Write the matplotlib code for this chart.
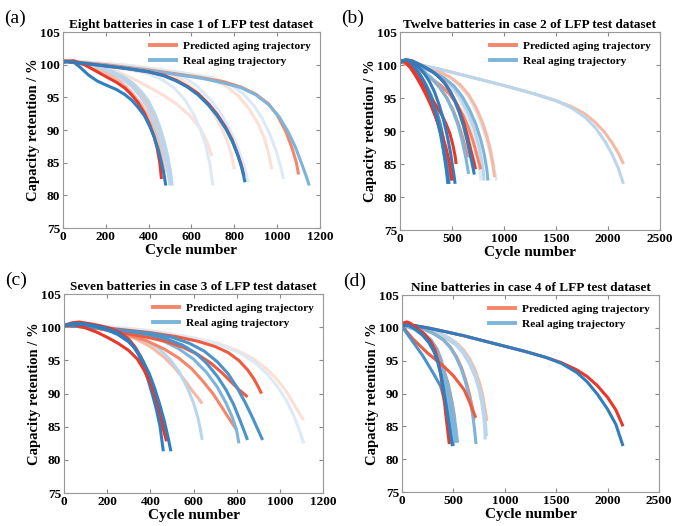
import matplotlib
matplotlib.use("Agg")
import matplotlib.pyplot as plt
from matplotlib.lines import Line2D

plt.rcParams["font.family"] = ["Liberation Serif", "DejaVu Serif"]
plt.rcParams["font.weight"] = "bold"

# colour shades: 0 = strong ... 4 = faint
RED = ["#E8382B", "#EF5A40", "#F4876A", "#F8B9A4", "#FCDFD5"]
BLUE = ["#2F7FBF", "#4B93C9", "#7DB4D9", "#B9D6EC", "#DDEAF5"]

# ---- panel (a): eight batteries, case 1 ----
a_shade = [0, 0, 2, 3, 4, 4, 4, 3]
a_real = [
    [[0, 20, 50, 80, 120, 160, 200, 250, 290, 320, 350, 380, 405, 425, 445, 460, 472, 480],
     [100.3, 100.5, 100.4, 99.6, 98.4, 97.5, 96.9, 96.2, 95.4, 94.6, 93.5, 92.2, 90.6, 89.0, 87.0, 85.0, 83.2, 81.5]],
    [[0, 100, 200, 300, 400, 470, 530, 580, 630, 680, 720, 760, 790, 815, 835, 850],
     [100.5, 100.2, 99.8, 99.4, 98.9, 98.3, 97.5, 96.6, 95.4, 93.8, 92.2, 90.2, 88.3, 86.3, 84.2, 82.0]],
    [[0, 200, 400, 550, 650, 750, 830, 900, 960, 1010, 1050, 1085, 1115, 1135, 1150],
     [100.6, 99.9, 99.1, 98.4, 97.9, 97.2, 96.5, 95.4, 93.9, 92.0, 89.8, 87.4, 84.8, 83.0, 81.5]],
    [[0, 100, 200, 280, 330, 370, 400, 430, 455, 475, 492, 503, 510],
     [100.6, 100.3, 99.4, 98.2, 97.1, 95.7, 94.4, 92.4, 90.2, 88.0, 85.5, 83.4, 81.5]],
    [[0, 150, 300, 400, 470, 520, 570, 610, 640, 665, 685, 700],
     [100.6, 100.1, 99.3, 98.6, 97.6, 96.4, 94.6, 92.4, 90.2, 87.8, 85.0, 81.5]],
    [[0, 200, 400, 500, 570, 630, 690, 740, 780, 815, 845, 865],
     [100.6, 100.1, 99.3, 98.8, 98.0, 96.6, 94.6, 92.4, 90.0, 87.4, 84.6, 82.0]],
    [[0, 300, 550, 700, 780, 840, 890, 930, 965, 995, 1015, 1030],
     [100.7, 99.9, 98.8, 98.0, 97.0, 95.6, 93.8, 91.8, 89.4, 86.8, 84.6, 82.5]],
    [[0, 100, 200, 270, 320, 360, 395, 425, 450, 470, 487, 500],
     [100.6, 100.2, 99.2, 98.0, 96.7, 95.2, 93.4, 91.2, 89.0, 86.8, 84.2, 81.5]],
]
a_pred = [
    [[0, 50, 100, 150, 200, 250, 290, 320, 350, 380, 405, 425, 440, 452, 460],
     [100.5, 100.6, 100.0, 99.1, 98.2, 97.3, 96.4, 95.4, 94.2, 92.6, 90.8, 89.0, 87.2, 85.0, 82.5]],
    [[0, 100, 200, 300, 400, 470, 530, 580, 630, 680, 720, 760, 790, 812, 832, 845],
     [100.5, 100.2, 99.8, 99.4, 98.9, 98.4, 97.6, 96.7, 95.6, 94.0, 92.4, 90.4, 88.5, 86.6, 84.7, 83.0]],
    [[0, 200, 400, 550, 650, 750, 830, 900, 960, 1000, 1040, 1070, 1090, 1100],
     [100.6, 100.0, 99.2, 98.5, 98.0, 97.4, 96.6, 95.5, 94.0, 92.3, 89.8, 87.2, 85.0, 83.2]],
    [[0, 100, 200, 280, 330, 370, 400, 430, 455, 475, 488, 495],
     [100.6, 100.2, 99.2, 97.9, 96.8, 95.4, 94.0, 92.0, 89.8, 87.5, 85.2, 83.0]],
    [[0, 150, 250, 330, 400, 470, 530, 590, 640, 675, 695],
     [100.6, 100.0, 99.0, 97.8, 96.6, 95.3, 94.0, 92.3, 90.3, 88.0, 86.0]],
    [[0, 200, 400, 500, 560, 620, 670, 710, 745, 770, 790, 800],
     [100.6, 100.0, 99.2, 98.6, 97.6, 96.0, 94.2, 92.2, 90.0, 88.0, 85.8, 84.0]],
    [[0, 300, 550, 680, 760, 820, 870, 910, 940, 960, 975],
     [100.7, 99.9, 98.8, 98.0, 96.8, 95.2, 93.2, 91.0, 88.8, 86.4, 84.0]],
    [[0, 100, 200, 270, 320, 360, 390, 420, 445, 462, 475],
     [100.6, 100.0, 98.8, 97.4, 95.8, 94.2, 92.6, 90.6, 88.4, 86.0, 83.5]],
]

# ---- panel (b): twelve batteries, case 2 ----
b_shade = [1, 0, 1, 0, 0, 2, 3, 3, 1, 4, 4, 2]
b_real = [
    [[0, 40, 80, 130, 180, 230, 280, 320, 360, 390, 415, 435, 450, 460],
     [100.4, 100.7, 100.6, 99.6, 98.4, 97.0, 95.3, 93.6, 91.4, 89.4, 87.2, 85.2, 83.5, 82.0]],
    [[0, 50, 100, 160, 220, 280, 330, 380, 420, 455, 485, 505, 520, 530],
     [100.5, 100.8, 100.7, 100.0, 99.0, 97.6, 96.0, 93.8, 91.6, 89.2, 86.8, 84.7, 83.2, 82.0]],
    [[0, 50, 100, 150, 200, 250, 300, 350, 390, 420, 445, 460, 470],
     [100.4, 100.6, 100.2, 99.3, 98.1, 96.7, 95.0, 92.8, 90.6, 88.4, 86.0, 84.0, 82.0]],
    [[0, 40, 80, 130, 180, 230, 280, 320, 360, 395, 420, 440, 455, 465],
     [100.4, 100.7, 100.7, 99.9, 98.8, 97.5, 95.8, 94.0, 91.8, 89.4, 87.2, 85.2, 83.4, 82.0]],
    [[0, 60, 120, 200, 270, 330, 380, 430, 480, 530, 570, 610, 645, 675, 700, 715],
     [100.5, 100.8, 100.6, 100.0, 99.4, 98.8, 98.1, 97.2, 96.0, 94.4, 92.8, 90.8, 88.6, 86.4, 84.6, 83.4]],
    [[0, 150, 300, 420, 520, 600, 670, 730, 775, 810, 835, 846],
     [100.6, 100.0, 99.1, 98.1, 96.8, 95.2, 93.2, 91.0, 88.8, 86.5, 84.2, 82.5]],
    [[0, 150, 300, 420, 510, 590, 660, 715, 755, 785, 800, 808],
     [100.6, 100.0, 99.0, 97.9, 96.6, 94.8, 92.6, 90.3, 88.0, 85.6, 84.0, 82.5]],
    [[0, 200, 400, 700, 1000, 1300, 1500, 1650, 1780, 1880, 1970, 2040, 2100, 2150],
     [100.5, 100.0, 99.3, 98.1, 96.9, 95.6, 94.6, 93.5, 92.1, 90.5, 88.5, 86.5, 84.4, 82.0]],
    [[0, 50, 100, 150, 200, 250, 300, 345, 385, 415, 440, 458, 470],
     [100.4, 100.7, 100.4, 99.5, 98.4, 97.0, 95.4, 93.4, 91.2, 89.0, 86.6, 84.4, 82.0]],
    [[0, 200, 350, 470, 570, 650, 720, 780, 830, 870, 900, 930],
     [100.6, 100.0, 99.2, 98.2, 96.9, 95.4, 93.4, 91.2, 88.8, 86.4, 84.4, 82.5]],
    [[0, 150, 300, 400, 480, 550, 610, 660, 700, 735, 760, 780],
     [100.6, 100.0, 99.1, 98.1, 96.9, 95.4, 93.6, 91.6, 89.4, 87.0, 84.8, 82.5]],
    [[0, 100, 200, 300, 380, 450, 510, 560, 600, 635, 660],
     [100.6, 100.3, 99.4, 98.1, 96.7, 95.0, 93.0, 90.8, 88.4, 85.8, 83.5]],
]
b_pred = [
    [[0, 40, 100, 150, 200, 250, 300, 350, 390, 420, 450, 475, 490],
     [100.6, 100.6, 99.6, 98.5, 97.3, 95.9, 94.2, 92.0, 89.8, 87.8, 85.6, 83.8, 82.5]],
    [[0, 50, 100, 150, 200, 250, 300, 350, 400, 440, 480, 510, 530, 540],
     [100.6, 100.6, 99.8, 98.6, 97.4, 96.2, 95.0, 93.8, 92.5, 91.2, 89.6, 87.8, 86.2, 85.0]],
    [[0, 50, 100, 150, 200, 250, 300, 350, 390, 420, 445, 465, 478],
     [100.5, 100.6, 100.0, 99.0, 97.8, 96.4, 94.7, 92.5, 90.4, 88.3, 86.2, 84.3, 82.8]],
    [[0, 40, 100, 150, 200, 250, 300, 350, 400, 440, 470, 490, 500],
     [100.6, 100.6, 99.6, 98.4, 97.0, 95.5, 93.8, 91.8, 89.6, 87.6, 85.6, 83.8, 82.5]],
    [[0, 60, 120, 200, 270, 330, 380, 430, 480, 530, 575, 615, 650, 680, 710, 727],
     [100.5, 100.7, 100.6, 100.0, 99.4, 98.8, 98.1, 97.3, 96.1, 94.6, 93.0, 91.2, 89.2, 87.2, 85.4, 84.2]],
    [[0, 100, 200, 300, 400, 480, 550, 610, 660, 700, 735, 760, 776],
     [100.5, 99.9, 99.1, 98.0, 96.8, 95.5, 94.0, 92.3, 90.4, 88.6, 86.6, 85.2, 84.2]],
    [[0, 200, 350, 480, 580, 660, 730, 790, 835, 870, 895, 910],
     [100.6, 100.0, 99.2, 98.2, 97.0, 95.5, 93.6, 91.4, 89.2, 87.0, 84.8, 83.0]],
    [[0, 200, 400, 700, 1000, 1300, 1500, 1650, 1780, 1880, 1970, 2050, 2110, 2150],
     [100.5, 100.0, 99.3, 98.1, 96.9, 95.6, 94.6, 93.7, 92.6, 91.3, 89.8, 88.0, 86.4, 85.0]],
    [[0, 50, 100, 150, 200, 250, 300, 345, 385, 415, 440, 460, 475],
     [100.5, 100.6, 100.2, 99.2, 98.0, 96.6, 95.0, 93.0, 90.9, 88.8, 86.6, 84.6, 83.0]],
    [[0, 200, 350, 470, 570, 650, 720, 780, 830, 865, 890, 905],
     [100.6, 100.0, 99.2, 98.2, 97.0, 95.6, 93.8, 91.8, 89.6, 87.6, 85.8, 84.5]],
    [[0, 150, 300, 400, 480, 550, 610, 660, 700, 730, 750, 765],
     [100.6, 100.0, 99.1, 98.1, 97.0, 95.6, 94.0, 92.2, 90.2, 88.4, 86.8, 85.5]],
    [[0, 100, 200, 300, 380, 450, 510, 560, 600, 630, 650],
     [100.6, 100.2, 99.3, 98.0, 96.6, 95.0, 93.2, 91.2, 89.2, 87.4, 86.0]],
]

# ---- panel (c): seven batteries, case 3 ----
c_shade = [0, 0, 1, 1, 2, 3, 4]
c_real = [
    [[0, 30, 60, 100, 150, 200, 250, 290, 320, 345, 370, 390, 410, 428, 445, 460],
     [100.3, 100.5, 100.6, 100.5, 100.2, 99.8, 99.1, 98.2, 97.2, 95.9, 94.0, 92.0, 89.8, 87.6, 85.0, 81.3]],
    [[0, 50, 100, 150, 200, 250, 300, 335, 365, 395, 420, 445, 465, 482, 495],
     [100.3, 100.5, 100.4, 100.1, 99.6, 98.9, 97.8, 96.6, 95.0, 93.0, 90.8, 88.2, 85.8, 83.4, 81.3]],
    [[0, 150, 300, 400, 480, 550, 610, 660, 710, 750, 785, 815, 835, 850],
     [100.3, 100.0, 99.4, 98.9, 98.2, 97.3, 96.1, 94.6, 92.6, 90.6, 88.4, 86.0, 84.3, 83.0]],
    [[0, 200, 400, 500, 580, 650, 710, 760, 800, 840, 870, 895, 920],
     [100.3, 99.8, 99.1, 98.5, 97.6, 96.4, 94.8, 93.0, 91.0, 88.6, 86.6, 84.8, 83.0]],
    [[0, 200, 350, 450, 530, 600, 660, 710, 750, 780, 800, 810],
     [100.3, 99.8, 99.0, 98.1, 96.8, 95.2, 93.2, 91.0, 88.6, 86.4, 84.4, 82.5]],
    [[0, 200, 300, 380, 440, 490, 535, 570, 600, 620, 632, 640],
     [100.3, 99.7, 99.0, 98.0, 96.8, 95.2, 93.2, 91.0, 88.6, 86.4, 84.6, 83.0]],
    [[0, 200, 400, 600, 720, 810, 880, 940, 990, 1030, 1065, 1090, 1110],
     [100.4, 100.1, 99.5, 98.4, 97.4, 96.2, 94.8, 93.0, 91.0, 89.0, 86.6, 84.5, 82.5]],
]
c_pred = [
    [[0, 40, 70, 110, 160, 210, 260, 300, 330, 355, 380, 400, 420, 440, 460, 475],
     [100.3, 100.7, 100.8, 100.6, 100.3, 99.9, 99.2, 98.2, 97.0, 95.6, 93.6, 91.6, 89.4, 87.0, 84.6, 82.8]],
    [[0, 50, 100, 150, 200, 250, 300, 340, 370, 400, 425, 448, 466, 480],
     [100.3, 100.4, 99.9, 99.3, 98.5, 97.6, 96.5, 95.2, 93.6, 91.6, 89.4, 87.0, 84.8, 83.0]],
    [[0, 150, 300, 400, 480, 550, 620, 680, 730, 770, 810, 850],
     [100.3, 99.9, 99.0, 98.4, 97.8, 97.0, 95.9, 94.6, 93.2, 91.9, 90.6, 89.5]],
    [[0, 200, 400, 520, 620, 700, 760, 810, 850, 880, 900, 915],
     [100.3, 99.9, 99.2, 98.6, 97.9, 97.1, 96.2, 95.0, 93.6, 92.2, 91.0, 90.0]],
    [[0, 150, 280, 380, 460, 530, 590, 640, 690, 730, 765, 800],
     [100.3, 99.9, 99.0, 98.0, 96.8, 95.4, 93.8, 92.0, 90.0, 88.0, 86.2, 84.5]],
    [[0, 150, 250, 330, 400, 460, 510, 555, 590, 620, 640],
     [100.3, 99.9, 99.2, 98.3, 97.1, 95.6, 94.0, 92.2, 90.6, 89.4, 88.5]],
    [[0, 200, 400, 600, 720, 810, 880, 940, 990, 1030, 1065, 1090, 1110],
     [100.4, 100.1, 99.5, 98.4, 97.5, 96.4, 95.2, 93.7, 92.0, 90.3, 88.4, 87.0, 86.0]],
]

# ---- panel (d): nine batteries, case 4 ----
d_shade = [0, 0, 1, 2, 2, 3, 3, 2, 2]
d_real = [
    [[0, 100, 250, 400, 600, 800, 1000, 1200, 1400, 1550, 1700, 1800, 1900, 2000, 2080, 2150],
     [100.5, 100.4, 100.0, 99.5, 98.8, 98.0, 97.2, 96.4, 95.5, 94.6, 93.2, 91.8, 89.9, 87.6, 85.3, 82.0]],
    [[0, 60, 130, 200, 260, 310, 350, 380, 405, 430, 452, 472, 490],
     [100.4, 100.4, 99.8, 98.9, 97.8, 96.4, 94.6, 92.8, 90.6, 88.2, 85.8, 83.8, 82.0]],
    [[0, 100, 200, 300, 376, 420, 450, 475, 495],
     [100.2, 98.0, 95.8, 93.2, 91.1, 88.5, 86.0, 83.4, 82.0]],
    [[0, 100, 200, 280, 340, 380, 415, 445, 470, 490, 508, 520],
     [100.5, 100.2, 99.3, 98.2, 96.8, 95.2, 93.0, 90.4, 87.8, 85.6, 83.8, 82.5]],
    [[0, 150, 300, 400, 470, 530, 580, 620, 655, 685, 705, 720],
     [100.5, 100.2, 99.2, 98.2, 97.0, 95.4, 93.6, 91.6, 89.4, 87.0, 84.6, 82.3]],
    [[0, 200, 350, 450, 530, 600, 660, 710, 750, 775, 795, 805, 810],
     [100.5, 100.0, 99.1, 98.2, 97.3, 96.0, 94.4, 92.6, 90.6, 88.6, 86.4, 84.6, 83.0]],
    [[0, 200, 350, 450, 530, 600, 660, 710, 750, 780, 800, 815, 820],
     [100.5, 100.1, 99.3, 98.5, 97.6, 96.3, 94.8, 93.0, 91.0, 89.0, 87.0, 85.0, 83.5]],
    [[0, 100, 200, 270, 330, 370, 400, 430, 455, 475, 490, 500],
     [100.5, 100.0, 98.9, 97.6, 96.0, 94.4, 92.8, 90.6, 88.2, 85.8, 83.8, 82.0]],
    [[0, 150, 250, 330, 400, 450, 490, 520, 540],
     [100.5, 99.6, 98.2, 96.4, 93.8, 91.2, 88.2, 85.2, 82.5]],
]
d_pred = [
    [[0, 100, 250, 400, 600, 800, 1000, 1200, 1400, 1550, 1700, 1800, 1900, 2000, 2080, 2150],
     [100.5, 100.4, 100.0, 99.5, 98.8, 98.0, 97.2, 96.4, 95.5, 94.7, 93.6, 92.6, 91.2, 89.4, 87.5, 85.0]],
    [[0, 20, 50, 80, 150, 220, 280, 320, 350, 375, 395, 415, 432, 447, 460],
     [100.5, 100.8, 100.9, 100.7, 99.9, 99.0, 97.9, 96.6, 95.0, 93.0, 90.8, 88.4, 86.0, 84.0, 82.3]],
    [[0, 100, 246, 408, 500, 603, 660, 717],
     [100.3, 98.4, 96.2, 94.1, 92.7, 90.6, 88.6, 86.3]],
    [[0, 100, 200, 280, 340, 380, 415, 445, 470, 490, 505],
     [100.5, 100.2, 99.3, 98.1, 96.7, 95.0, 92.8, 90.2, 87.6, 85.4, 83.5]],
    [[0, 150, 300, 400, 470, 530, 580, 620, 655, 685, 700],
     [100.5, 100.2, 99.2, 98.2, 97.1, 95.6, 93.9, 92.0, 90.0, 87.8, 86.0]],
    [[0, 200, 350, 450, 530, 600, 660, 710, 750, 780, 800, 815, 820],
     [100.5, 100.0, 99.1, 98.2, 97.4, 96.4, 95.0, 93.4, 91.6, 89.8, 88.0, 86.6, 86.0]],
    [[0, 200, 350, 450, 530, 600, 660, 710, 750, 780, 800, 815, 825],
     [100.5, 100.1, 99.3, 98.5, 97.7, 96.6, 95.2, 93.6, 91.8, 90.0, 88.2, 86.8, 85.8]],
    [[0, 100, 200, 270, 330, 370, 400, 430, 452, 470, 480],
     [100.5, 100.1, 99.0, 97.8, 96.2, 94.6, 93.0, 90.8, 88.6, 86.2, 84.5]],
    [[0, 150, 250, 330, 400, 450, 490, 515],
     [100.5, 99.7, 98.4, 96.6, 94.0, 91.4, 88.4, 86.0]],
]

panels = [
    ("(a)", "Eight batteries in case 1 of LFP test dataset", a_real, a_pred, a_shade, 1200,
     [0.0914, 0.5665, 0.373, 0.3726]),
    ("(b)", "Twelve batteries in case 2 of LFP test dataset", b_real, b_pred, b_shade, 2500,
     [0.5806, 0.5627, 0.377, 0.3764]),
    ("(c)", "Seven batteries in case 3 of LFP test dataset", c_real, c_pred, c_shade, 1200,
     [0.0929, 0.0627, 0.376, 0.378]),
    ("(d)", "Nine batteries in case 4 of LFP test dataset", d_real, d_pred, d_shade, 2500,
     [0.5835, 0.0646, 0.373, 0.3745]),
]

fig = plt.figure(figsize=(6.89, 5.26), dpi=100)

for tag, title, real, pred, shade, xmax, rect in panels:
    ax = fig.add_axes(rect)
    # faint curves first, strong curves on top
    order = sorted(range(len(shade)), key=lambda i: -shade[i])
    for i in order:
        ax.plot(pred[i][0], pred[i][1], color=RED[shade[i]], lw=2.2,
                solid_capstyle="butt", solid_joinstyle="round")
        ax.plot(real[i][0], real[i][1], color=BLUE[shade[i]], lw=2.2,
                solid_capstyle="butt", solid_joinstyle="round")

    ax.set_xlim(0, xmax)
    ax.set_ylim(75, 105)
    ax.set_yticks([75, 80, 85, 90, 95, 100, 105])
    if xmax == 1200:
        ax.set_xticks(range(0, 1201, 200))
    else:
        ax.set_xticks(range(0, 2501, 500))
    ax.tick_params(direction="in", top=True, right=True, length=3,
                   labelsize=9.5, color="#888888", pad=2)
    for lbl in ax.get_xticklabels() + ax.get_yticklabels():
        lbl.set_fontweight("bold")
    for sp in ax.spines.values():
        sp.set_color("#999999")
        sp.set_linewidth(0.8)

    ax.set_xlabel("Cycle number", fontsize=11, fontweight="bold", labelpad=1)
    ax.set_ylabel("Capacity retention / %", fontsize=10.5, fontweight="bold", labelpad=0)
    ax.set_title(title, fontsize=9.5, fontweight="bold", pad=3)

    handles = [Line2D([], [], color=RED[2], lw=2.8),
               Line2D([], [], color=BLUE[2], lw=2.8)]
    ax.legend(handles, ["Predicted aging trajectory", "Real aging trajectory"],
              loc="upper right", frameon=False,
              handlelength=2.3, handletextpad=0.6, labelspacing=0.45,
              borderaxespad=0.4, prop={"weight": "bold", "size": 8.2})

    bb = ax.get_position()
    fig.text(bb.x0 - 0.085, bb.y1 + 0.026, tag, fontsize=14, fontweight="normal",
             va="center", ha="left")

fig.savefig("out.png", dpi=100)
